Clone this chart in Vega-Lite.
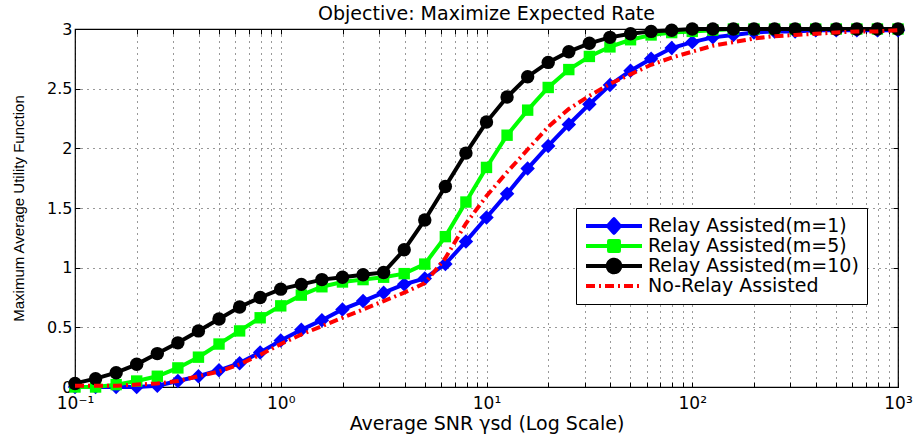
{
  "$schema": "https://vega.github.io/schema/vega-lite/v6.json",
  "width": 823,
  "height": 358,
  "autosize": {"type": "none"},
  "padding": {"left": 75, "top": 29, "right": 19, "bottom": 52},
  "background": "white",
  "title": {"text": "Objective: Maximize Expected Rate", "font": "DejaVu Sans", "fontSize": 19, "fontWeight": "normal", "anchor": "middle", "offset": -3, "color": "black"},
  "config": {
    "view": {"stroke": "black", "strokeWidth": 1.2},
    "axis": {
      "domain": false,
      "tickColor": "black",
      "tickSize": -5,
      "gridColor": "black",
      "gridDash": [1, 5],
      "gridOpacity": 0.8,
      "gridWidth": 1,
      "labelColor": "black",
      "labelFont": "DejaVu Sans",
      "labelFontSize": 16,
      "titleColor": "black",
      "titleFontWeight": "normal"
    }
  },
  "data": {
    "values": [
      {"x": 0.1, "Relay Assisted(m=1)": 0.0, "Relay Assisted(m=5)": 0.0, "Relay Assisted(m=10)": 0.03, "No-Relay Assisted": 0.01},
      {"x": 0.1259, "Relay Assisted(m=1)": 0.0, "Relay Assisted(m=5)": 0.0, "Relay Assisted(m=10)": 0.07, "No-Relay Assisted": 0.01},
      {"x": 0.1585, "Relay Assisted(m=1)": 0.0, "Relay Assisted(m=5)": 0.02, "Relay Assisted(m=10)": 0.12, "No-Relay Assisted": 0.01},
      {"x": 0.1995, "Relay Assisted(m=1)": 0.0, "Relay Assisted(m=5)": 0.05, "Relay Assisted(m=10)": 0.19, "No-Relay Assisted": 0.02},
      {"x": 0.2512, "Relay Assisted(m=1)": 0.01, "Relay Assisted(m=5)": 0.09, "Relay Assisted(m=10)": 0.28, "No-Relay Assisted": 0.03},
      {"x": 0.3162, "Relay Assisted(m=1)": 0.05, "Relay Assisted(m=5)": 0.16, "Relay Assisted(m=10)": 0.37, "No-Relay Assisted": 0.05},
      {"x": 0.3981, "Relay Assisted(m=1)": 0.09, "Relay Assisted(m=5)": 0.25, "Relay Assisted(m=10)": 0.47, "No-Relay Assisted": 0.09},
      {"x": 0.5012, "Relay Assisted(m=1)": 0.14, "Relay Assisted(m=5)": 0.36, "Relay Assisted(m=10)": 0.57, "No-Relay Assisted": 0.13},
      {"x": 0.631, "Relay Assisted(m=1)": 0.2, "Relay Assisted(m=5)": 0.47, "Relay Assisted(m=10)": 0.67, "No-Relay Assisted": 0.19},
      {"x": 0.7943, "Relay Assisted(m=1)": 0.29, "Relay Assisted(m=5)": 0.58, "Relay Assisted(m=10)": 0.75, "No-Relay Assisted": 0.27},
      {"x": 1, "Relay Assisted(m=1)": 0.39, "Relay Assisted(m=5)": 0.68, "Relay Assisted(m=10)": 0.82, "No-Relay Assisted": 0.36},
      {"x": 1.259, "Relay Assisted(m=1)": 0.48, "Relay Assisted(m=5)": 0.77, "Relay Assisted(m=10)": 0.86, "No-Relay Assisted": 0.44},
      {"x": 1.585, "Relay Assisted(m=1)": 0.56, "Relay Assisted(m=5)": 0.84, "Relay Assisted(m=10)": 0.9, "No-Relay Assisted": 0.51},
      {"x": 1.995, "Relay Assisted(m=1)": 0.65, "Relay Assisted(m=5)": 0.88, "Relay Assisted(m=10)": 0.92, "No-Relay Assisted": 0.58},
      {"x": 2.512, "Relay Assisted(m=1)": 0.72, "Relay Assisted(m=5)": 0.9, "Relay Assisted(m=10)": 0.94, "No-Relay Assisted": 0.65},
      {"x": 3.162, "Relay Assisted(m=1)": 0.79, "Relay Assisted(m=5)": 0.92, "Relay Assisted(m=10)": 0.96, "No-Relay Assisted": 0.72},
      {"x": 3.981, "Relay Assisted(m=1)": 0.86, "Relay Assisted(m=5)": 0.95, "Relay Assisted(m=10)": 1.15, "No-Relay Assisted": 0.79},
      {"x": 5.012, "Relay Assisted(m=1)": 0.91, "Relay Assisted(m=5)": 1.03, "Relay Assisted(m=10)": 1.4, "No-Relay Assisted": 0.87},
      {"x": 6.31, "Relay Assisted(m=1)": 1.03, "Relay Assisted(m=5)": 1.26, "Relay Assisted(m=10)": 1.68, "No-Relay Assisted": 1.08},
      {"x": 7.943, "Relay Assisted(m=1)": 1.22, "Relay Assisted(m=5)": 1.55, "Relay Assisted(m=10)": 1.96, "No-Relay Assisted": 1.37},
      {"x": 10, "Relay Assisted(m=1)": 1.42, "Relay Assisted(m=5)": 1.84, "Relay Assisted(m=10)": 2.22, "No-Relay Assisted": 1.6},
      {"x": 12.59, "Relay Assisted(m=1)": 1.62, "Relay Assisted(m=5)": 2.11, "Relay Assisted(m=10)": 2.43, "No-Relay Assisted": 1.8},
      {"x": 15.85, "Relay Assisted(m=1)": 1.83, "Relay Assisted(m=5)": 2.32, "Relay Assisted(m=10)": 2.6, "No-Relay Assisted": 1.99},
      {"x": 19.95, "Relay Assisted(m=1)": 2.02, "Relay Assisted(m=5)": 2.51, "Relay Assisted(m=10)": 2.72, "No-Relay Assisted": 2.18},
      {"x": 25.12, "Relay Assisted(m=1)": 2.2, "Relay Assisted(m=5)": 2.66, "Relay Assisted(m=10)": 2.81, "No-Relay Assisted": 2.33},
      {"x": 31.62, "Relay Assisted(m=1)": 2.37, "Relay Assisted(m=5)": 2.77, "Relay Assisted(m=10)": 2.88, "No-Relay Assisted": 2.44},
      {"x": 39.81, "Relay Assisted(m=1)": 2.53, "Relay Assisted(m=5)": 2.85, "Relay Assisted(m=10)": 2.93, "No-Relay Assisted": 2.54},
      {"x": 50.12, "Relay Assisted(m=1)": 2.65, "Relay Assisted(m=5)": 2.91, "Relay Assisted(m=10)": 2.96, "No-Relay Assisted": 2.62},
      {"x": 63.1, "Relay Assisted(m=1)": 2.75, "Relay Assisted(m=5)": 2.95, "Relay Assisted(m=10)": 2.98, "No-Relay Assisted": 2.7},
      {"x": 79.43, "Relay Assisted(m=1)": 2.84, "Relay Assisted(m=5)": 2.97, "Relay Assisted(m=10)": 2.99, "No-Relay Assisted": 2.76},
      {"x": 100, "Relay Assisted(m=1)": 2.89, "Relay Assisted(m=5)": 2.98, "Relay Assisted(m=10)": 3.0, "No-Relay Assisted": 2.81},
      {"x": 125.9, "Relay Assisted(m=1)": 2.93, "Relay Assisted(m=5)": 2.99, "Relay Assisted(m=10)": 3.0, "No-Relay Assisted": 2.86},
      {"x": 158.5, "Relay Assisted(m=1)": 2.95, "Relay Assisted(m=5)": 3.0, "Relay Assisted(m=10)": 3.0, "No-Relay Assisted": 2.89},
      {"x": 199.5, "Relay Assisted(m=1)": 2.97, "Relay Assisted(m=5)": 3.0, "Relay Assisted(m=10)": 3.0, "No-Relay Assisted": 2.92},
      {"x": 251.2, "Relay Assisted(m=1)": 2.98, "Relay Assisted(m=5)": 3.0, "Relay Assisted(m=10)": 3.0, "No-Relay Assisted": 2.94},
      {"x": 316.2, "Relay Assisted(m=1)": 2.98, "Relay Assisted(m=5)": 3.0, "Relay Assisted(m=10)": 3.0, "No-Relay Assisted": 2.95},
      {"x": 398.1, "Relay Assisted(m=1)": 2.99, "Relay Assisted(m=5)": 3.0, "Relay Assisted(m=10)": 3.0, "No-Relay Assisted": 2.96},
      {"x": 501.2, "Relay Assisted(m=1)": 2.99, "Relay Assisted(m=5)": 3.0, "Relay Assisted(m=10)": 3.0, "No-Relay Assisted": 2.97},
      {"x": 631, "Relay Assisted(m=1)": 2.99, "Relay Assisted(m=5)": 3.0, "Relay Assisted(m=10)": 3.0, "No-Relay Assisted": 2.98},
      {"x": 794.3, "Relay Assisted(m=1)": 2.99, "Relay Assisted(m=5)": 3.0, "Relay Assisted(m=10)": 3.0, "No-Relay Assisted": 2.98},
      {"x": 1000, "Relay Assisted(m=1)": 2.99, "Relay Assisted(m=5)": 3.0, "Relay Assisted(m=10)": 3.0, "No-Relay Assisted": 2.99}
    ]
  },
  "transform": [
    {"fold": ["Relay Assisted(m=1)", "Relay Assisted(m=5)", "Relay Assisted(m=10)", "No-Relay Assisted"], "as": ["series", "value"]}
  ],
  "encoding": {
    "x": {
      "field": "x",
      "type": "quantitative",
      "scale": {"type": "log", "domain": [0.1, 1000], "nice": false},
      "axis": {
        "values": [0.1, 0.2, 0.3, 0.4, 0.5, 0.6, 0.7, 0.8, 0.9, 1, 2, 3, 4, 5, 6, 7, 8, 9, 10, 20, 30, 40, 50, 60, 70, 80, 90, 100, 200, 300, 400, 500, 600, 700, 800, 900, 1000],
        "labelExpr": "datum.value === 0.1 ? '10⁻¹' : datum.value === 1 ? '10⁰' : datum.value === 10 ? '10¹' : datum.value === 100 ? '10²' : datum.value === 1000 ? '10³' : ''",
        "labelOverlap": false,
        "labelFlush": false,
        "labelFontSize": 17,
        "labelPadding": 13,
        "title": "Average SNR γsd (Log Scale)",
        "titleFont": "DejaVu Sans",
        "titleFontSize": 19,
        "titlePadding": 3
      }
    },
    "y": {
      "field": "value",
      "type": "quantitative",
      "scale": {"domain": [0, 3], "nice": false, "zero": false},
      "axis": {
        "values": [0, 0.5, 1, 1.5, 2, 2.5, 3],
        "format": ".1~f",
        "labelPadding": 8,
        "title": "Maximum Average Utility Function",
        "titleFont": "Liberation Sans",
        "titleFontSize": 15,
        "titlePadding": 20
      }
    },
    "color": {
      "field": "series",
      "type": "nominal",
      "scale": {
        "domain": ["Relay Assisted(m=1)", "Relay Assisted(m=5)", "Relay Assisted(m=10)", "No-Relay Assisted"],
        "range": ["#0000FF", "#00FF00", "#000000", "#FF0000"]
      },
      "legend": {
        "title": null,
        "orient": "none",
        "legendX": 501,
        "legendY": 179,
        "direction": "vertical",
        "strokeColor": "black",
        "fillColor": "white",
        "padding": 8,
        "labelFont": "DejaVu Sans",
        "labelFontSize": 19,
        "labelColor": "black",
        "labelLimit": 0,
        "labelOffset": 24,
        "symbolSize": 256,
        "symbolOffset": 20,
        "symbolStrokeWidth": 4,
        "rowPadding": 0,
        "encode": {
          "symbols": {
            "update": {
              "shape": {"signal": "datum.value === 'Relay Assisted(m=1)' ? 'M-3.5,0H3.5M0,-0.85L0.75,0L0,0.85L-0.75,0Z' : datum.value === 'Relay Assisted(m=5)' ? 'M-3.5,0H3.5M-0.62,-0.62H0.62V0.62H-0.62Z' : datum.value === 'Relay Assisted(m=10)' ? 'M-3.5,0H3.5M-0.78,0A0.78,0.78 0 1,1 0.78,0A0.78,0.78 0 1,1 -0.78,0Z' : 'M-3.5,0H3.5'"},
              "fill": {"scale": "color", "field": "value"},
              "stroke": {"scale": "color", "field": "value"},
              "strokeWidth": {"value": 4},
              "strokeJoin": {"value": "round"},
              "strokeDash": {"signal": "datum.value === 'No-Relay Assisted' ? [9, 4, 2, 4] : [1, 0]"},
              "opacity": {"value": 1}
            }
          }
        }
      }
    }
  },
  "layer": [
    {
      "layer": [
        {"transform": [{"filter": "datum.series === 'Relay Assisted(m=1)'"}], "mark": {"type": "line", "strokeWidth": 4}},
        {"transform": [{"filter": "datum.series === 'Relay Assisted(m=1)'"}], "mark": {"type": "point", "shape": "diamond", "filled": true, "size": 210, "opacity": 1}},
        {"transform": [{"filter": "datum.series === 'Relay Assisted(m=5)'"}], "mark": {"type": "line", "strokeWidth": 4}},
        {"transform": [{"filter": "datum.series === 'Relay Assisted(m=5)'"}], "mark": {"type": "point", "shape": "square", "filled": true, "size": 130, "opacity": 1}},
        {"transform": [{"filter": "datum.series === 'Relay Assisted(m=10)'"}], "mark": {"type": "line", "strokeWidth": 4}},
        {"transform": [{"filter": "datum.series === 'Relay Assisted(m=10)'"}], "mark": {"type": "point", "shape": "circle", "filled": true, "size": 180, "opacity": 1}}
      ]
    },
    {
      "transform": [{"filter": "datum.series === 'No-Relay Assisted'"}],
      "mark": {"type": "line", "strokeWidth": 4, "strokeDash": [9, 4, 2, 4]},
      "encoding": {
        "x": {
          "field": "x",
          "type": "quantitative",
          "scale": {"type": "log", "domain": [0.1, 1000], "nice": false},
          "axis": {
            "orient": "top",
            "values": [0.1, 0.2, 0.3, 0.4, 0.5, 0.6, 0.7, 0.8, 0.9, 1, 2, 3, 4, 5, 6, 7, 8, 9, 10, 20, 30, 40, 50, 60, 70, 80, 90, 100, 200, 300, 400, 500, 600, 700, 800, 900, 1000],
            "labels": false,
            "grid": false,
            "title": null
          }
        },
        "y": {
          "field": "value",
          "type": "quantitative",
          "scale": {"domain": [0, 3], "nice": false, "zero": false},
          "axis": {
            "orient": "right",
            "values": [0, 0.5, 1, 1.5, 2, 2.5, 3],
            "labels": false,
            "grid": false,
            "title": null
          }
        }
      }
    }
  ],
  "resolve": {"axis": {"x": "independent", "y": "independent"}}
}
